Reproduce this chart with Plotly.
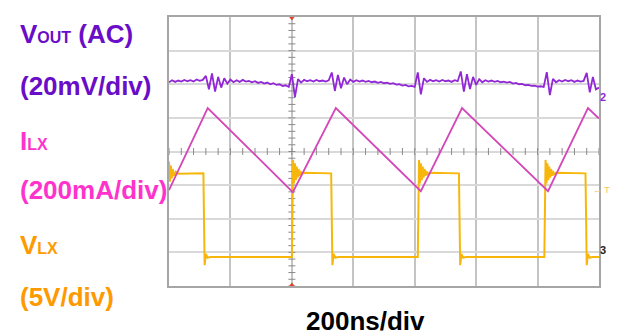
import numpy as np
import plotly.graph_objects as go

# ---- data (oscilloscope divisions; x: 200 ns/div, trigger at x=0) ----
vout_t0, vout_t1 = -2.0, 5.0   # time base of the VOUT record (div)
vout_y = [2.06, 2.12, 2.07, 2.11, 2.08, 2.13, 2.09, 2.12, 2.08, 2.14, 2.10, 2.13,
          2.25, 1.85, 2.32, 1.78, 2.22, 1.90, 2.18, 2.02, 2.14, 2.06, 2.12, 2.07,
          2.13, 2.08, 2.10, 2.06, 2.09, 2.04, 2.07, 2.02, 2.05, 2.00, 2.03, 1.98,
          2.00, 1.95, 1.97, 1.92, 2.30, 1.62, 2.15, 2.05, 2.13, 2.09, 2.12, 2.08,
          2.13, 2.09, 2.11, 2.08, 2.12, 2.35, 1.80, 2.28, 1.88, 2.20, 2.00, 2.14,
          2.07, 2.12, 2.08, 2.11, 2.07, 2.10, 2.06, 2.08, 2.04, 2.07, 2.03, 2.05,
          2.01, 2.03, 1.99, 2.00, 1.96, 1.98, 1.94, 1.95, 1.92, 2.35, 1.70, 2.18,
          2.07, 2.13, 2.09, 2.12, 2.08, 2.13, 2.09, 2.11, 2.07, 2.12, 2.09, 2.38,
          1.78, 2.30, 1.86, 2.22, 1.98, 2.15, 2.06, 2.12, 2.08, 2.11, 2.07, 2.10,
          2.06, 2.08, 2.05, 2.07, 2.02, 2.04, 2.00, 2.01, 1.97, 1.98, 1.95, 1.96,
          1.93, 1.94, 1.92, 2.36, 1.68, 2.16, 2.06, 2.12, 2.08, 2.13, 2.09, 2.12,
          2.07, 2.11, 2.08, 2.10, 2.34, 1.76, 2.22, 1.85, 1.90]

ilx_x = [-2.0, -1.37, 0.016, 0.716, 2.10, 2.77, 4.17, 4.82, 5.0]
ilx_y = [-1.15, 1.29, -1.21, 1.29, -1.18, 1.29, -1.18, 1.29, 0.98]

vlx_x = [-2.0, -1.985, -1.97, -1.955, -1.94, -1.92, -1.89, -1.85,
         -1.44, -1.42, -1.40, -1.37, -1.33,
         0.00, 0.02, 0.035, 0.05, 0.065, 0.08, 0.095, 0.11, 0.125, 0.14, 0.16, 0.19,
         0.64, 0.66, 0.68, 0.71, 0.75,
         2.05, 2.07, 2.085, 2.10, 2.115, 2.13, 2.145, 2.16, 2.175, 2.19, 2.21, 2.24,
         2.72, 2.74, 2.76, 2.79, 2.83,
         4.11, 4.13, 4.145, 4.16, 4.175, 4.19, 4.205, 4.22, 4.235, 4.25, 4.27, 4.30,
         4.78, 4.80, 4.82, 4.85, 4.89, 5.0]
vlx_y = [-0.30, -0.90, -0.42, -0.80, -0.52, -0.72, -0.60, -0.66,
         -0.65, -3.38, -3.05, -3.16, -3.14,
         -3.14, -0.25, -0.95, -0.35, -0.85, -0.45, -0.78, -0.52, -0.72, -0.58, -0.68, -0.63,
         -0.65, -3.38, -3.05, -3.16, -3.14,
         -3.14, -0.25, -0.95, -0.35, -0.85, -0.45, -0.78, -0.52, -0.72, -0.58, -0.68, -0.63,
         -0.65, -3.38, -3.05, -3.16, -3.14,
         -3.14, -0.25, -0.95, -0.35, -0.85, -0.45, -0.78, -0.52, -0.72, -0.58, -0.68, -0.63,
         -0.65, -3.38, -3.05, -3.16, -3.14, -3.14]

x_range = [-2, 5]
y_range = [-4, 4]

# the page body has an 8px margin: the figure starts at (8, 8) of the window
OFF = 8
W, H = 623 - OFF, 333 - OFF
PX_L, PX_R, PX_T, PX_B = 169 - OFF, 599 - OFF, 17 - OFF, 286 - OFF

vout_x = np.linspace(vout_t0, vout_t1, len(vout_y))

fig = go.Figure()

# centre graticule axes with minor ticks
fig.add_shape(type="line", x0=0, x1=0, y0=y_range[0], y1=y_range[1], xref="x", yref="y",
              line=dict(color="#9a9a9a", width=1, dash="dot"), layer="below")
fig.add_shape(type="line", x0=x_range[0], x1=x_range[1], y0=0, y1=0, xref="x", yref="y",
              line=dict(color="#9a9a9a", width=1, dash="dot"), layer="below")
hx = np.arange(x_range[0], x_range[1] + 1e-9, 0.2)
hy = np.arange(y_range[0], y_range[1] + 1e-9, 0.2)
fig.add_trace(go.Scatter(x=hx, y=np.zeros_like(hx), mode="markers",
                         marker=dict(symbol="line-ns", size=5, line=dict(color="#8a8a8a", width=1)),
                         hoverinfo="skip", showlegend=False))
fig.add_trace(go.Scatter(x=np.zeros_like(hy), y=hy, mode="markers",
                         marker=dict(symbol="line-ew", size=5, line=dict(color="#8a8a8a", width=1)),
                         hoverinfo="skip", showlegend=False))

# traces
fig.add_trace(go.Scatter(x=vlx_x, y=vlx_y, mode="lines",
                         line=dict(color="#F7B70A", width=2), showlegend=False))
fig.add_trace(go.Scatter(x=ilx_x, y=ilx_y, mode="lines",
                         line=dict(color="#D447B8", width=1.8), showlegend=False))
fig.add_trace(go.Scatter(x=vout_x, y=vout_y, mode="lines",
                         line=dict(color="#9227D6", width=1.8), showlegend=False))

# trigger position markers
fig.add_trace(go.Scatter(x=[0, 0], y=[y_range[1], y_range[0]], mode="markers",
                         marker=dict(symbol=["triangle-down", "triangle-up"], size=7, color="#E8402A"),
                         cliponaxis=False, hoverinfo="skip", showlegend=False))

def py(p):
    return 1 - (p - OFF) / H

def px(p):
    return (p - OFF) / W

FONT = "Liberation Sans, Arial, sans-serif"
labels = [
    ("V<span style='font-size:16px'>OUT</span> (AC)", 34, "#6A0DC8"),
    ("(20mV/div)", 86, "#6A0DC8"),
    ("I<span style='font-size:16px'>LX</span>", 141, "#FF33CC"),
    ("(200mA/div)", 190, "#FF33CC"),
    ("V<span style='font-size:16px'>LX</span>", 245, "#FF9900"),
    ("(5V/div)", 297, "#FF9900"),
]
annotations = []
for txt, yy, col in labels:
    annotations.append(dict(text=txt, x=px(18), y=py(yy), xref="paper", yref="paper",
                            xanchor="left", yanchor="middle", showarrow=False,
                            font=dict(family=FONT, size=26, color=col, weight="bold")))
annotations.append(dict(text="200ns/div", x=px(365), y=py(321), xref="paper", yref="paper",
                        xanchor="center", yanchor="middle", showarrow=False,
                        font=dict(family=FONT, size=26, color="#000000", weight="bold")))
# channel markers on the right edge
annotations.append(dict(text="2", x=px(608), y=py(89), xref="paper", yref="paper",
                        showarrow=False, font=dict(family=FONT, size=11, color="#9227D6", weight="bold")))
annotations.append(dict(text="3", x=px(608), y=py(258), xref="paper", yref="paper",
                        showarrow=False, font=dict(family=FONT, size=11, color="#222222", weight="bold")))
annotations.append(dict(text="← T", x=px(612), y=py(190), xref="paper", yref="paper",
                        showarrow=False, font=dict(family=FONT, size=9, color="#F3C65A")))

fig.update_layout(
    width=W, height=H,
    margin=dict(l=0, r=0, t=0, b=0),
    paper_bgcolor="white", plot_bgcolor="white",
    annotations=annotations,
    xaxis=dict(domain=[PX_L / W, PX_R / W], range=x_range, dtick=1, tick0=0,
               showgrid=True, gridcolor="#c4c4c4", gridwidth=1.5,
               zeroline=False, showticklabels=False, ticks="",
               showline=True, linecolor="#a6a6a6", linewidth=1.5, mirror=True, fixedrange=True),
    yaxis=dict(domain=[1 - PX_B / H, 1 - PX_T / H], range=y_range, dtick=1, tick0=0,
               showgrid=True, gridcolor="#d9d9d9", gridwidth=2,
               zeroline=False, showticklabels=False, ticks="",
               showline=True, linecolor="#a6a6a6", linewidth=1.5, mirror=True, fixedrange=True),
)

fig.write_html("out.html")
